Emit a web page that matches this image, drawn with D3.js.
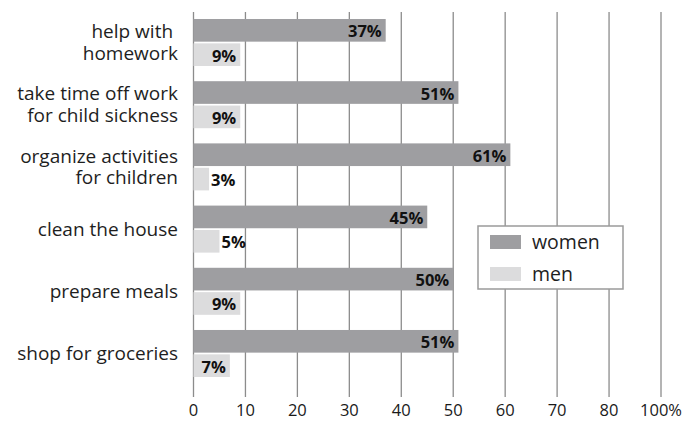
<!DOCTYPE html>
<html>
<head>
<meta charset="utf-8">
<script src="https://cdn.jsdelivr.net/npm/d3@7"></script>
<style>
  body { margin: 0; background: #fff; }
  svg { display: block; font-family: "Open Sans", sans-serif; }
  .cat { white-space: pre; }
</style>
</head>
<body>
<div id="chart"></div>
<script>
// lines of each category label, top to bottom
const categories = [
  'help with |homework',
  'take time off work|for child sickness',
  'organize activities|for children',
  'clean the house',
  'prepare meals',
  'shop for groceries'
];
const series = ['women', 'men'];
const women = [37, 51, 61, 45, 50, 51];
const men = [9, 9, 3, 5, 9, 7];
const tickValues = [0, 10, 20, 30, 40, 50, 60, 70, 80, 90];
const tickLabels = ['0', '10', '20', '30', '40', '50', '60', '70', '80', '100%'];

const width = 683;
const height = 421;

const colors = {women: '#9e9ea1', men: '#dcdcdd'};

const data = categories.map((c, i) => ({category: c, women: women[i], men: men[i]}));

const x = d3.scaleLinear()
    .domain([0, 90])
    .range([193.5, 661]);

const y = d3.scaleBand()
    .domain(categories)
    .range([19, 377])
    .paddingInner(0.244)
    .paddingOuter(0)
    .align(0);

const ySeries = d3.scaleBand()
    .domain(series)
    .range([0, y.bandwidth()])
    .paddingInner(0.07);

const svg = d3.select('#chart')
  .append('svg')
    .attr('width', width)
    .attr('height', height);

// grid lines behind the bars
svg.append('g')
    .attr('id', 'grid')
  .selectAll('line')
  .data(tickValues)
  .join('line')
    .attr('x1', d => x(d))
    .attr('x2', d => x(d))
    .attr('y1', 12)
    .attr('y2', 397)
    .attr('stroke', '#8c8c8c')
    .attr('stroke-width', 1.3);

// bottom tick labels
svg.append('g')
    .attr('id', 'ticks')
  .selectAll('text')
  .data(tickValues)
  .join('text')
    .attr('x', d => x(d))
    .attr('y', 416)
    .attr('text-anchor', 'middle')
    .attr('font-size', 16.5)
    .attr('fill', '#1a1a1a')
    .text((d, i) => tickLabels[i]);

const groups = svg.append('g')
    .attr('id', 'bars')
  .selectAll('g')
  .data(data)
  .join('g')
    .attr('transform', d => `translate(0,${y(d.category)})`);

groups.selectAll('rect')
  .data(d => series.map(s => ({key: s, value: d[s]})))
  .join('rect')
    .attr('x', x(0))
    .attr('y', d => ySeries(d.key))
    .attr('width', d => x(d.value) - x(0))
    .attr('height', ySeries.bandwidth())
    .attr('fill', d => colors[d.key]);

groups.selectAll('.value')
  .data(d => series.map(s => ({key: s, value: d[s]})))
  .join('text')
    .attr('class', 'value')
    .attr('x', d => d.value >= 7 ? x(d.value) - 4 : x(d.value) + 2)
    .attr('y', d => ySeries(d.key) + ySeries.bandwidth() / 2 + 7)
    .attr('text-anchor', d => d.value >= 7 ? 'end' : 'start')
    .attr('font-size', 16.5)
    .attr('font-weight', 700)
    .attr('fill', '#111')
    .text(d => d.value + '%');

// category labels
groups.append('text')
    .attr('class', 'cat')
    .attr('text-anchor', 'end')
    .attr('font-size', 19)
    .attr('fill', '#1e1e1e')
  .selectAll('tspan')
  .data(d => {
    const lines = d.category.split('|');
    return lines.map((l, i) => ({text: l, offset: (i - (lines.length - 1) / 2) * 21.5}));
  })
  .join('tspan')
    .attr('x', 178)
    .attr('y', d => y.bandwidth() / 2 + 6.5 + d.offset)
    .text(d => d.text);

// legend
const legend = svg.append('g')
    .attr('id', 'legend')
    .attr('transform', 'translate(478,226)');

legend.append('rect')
    .attr('width', 145)
    .attr('height', 63)
    .attr('fill', '#fff')
    .attr('stroke', '#9a9a9a')
    .attr('stroke-width', 1.5);

const items = legend.selectAll('.item')
  .data(series)
  .join('g')
    .attr('class', 'item')
    .attr('transform', (d, i) => `translate(12,${9 + i * 32})`);

items.append('rect')
    .attr('width', 31)
    .attr('height', 14)
    .attr('fill', d => colors[d]);

items.append('text')
    .attr('x', 42)
    .attr('y', 14)
    .attr('font-size', 19.5)
    .attr('fill', '#1e1e1e')
    .text(d => d);
</script>
</body>
</html>
